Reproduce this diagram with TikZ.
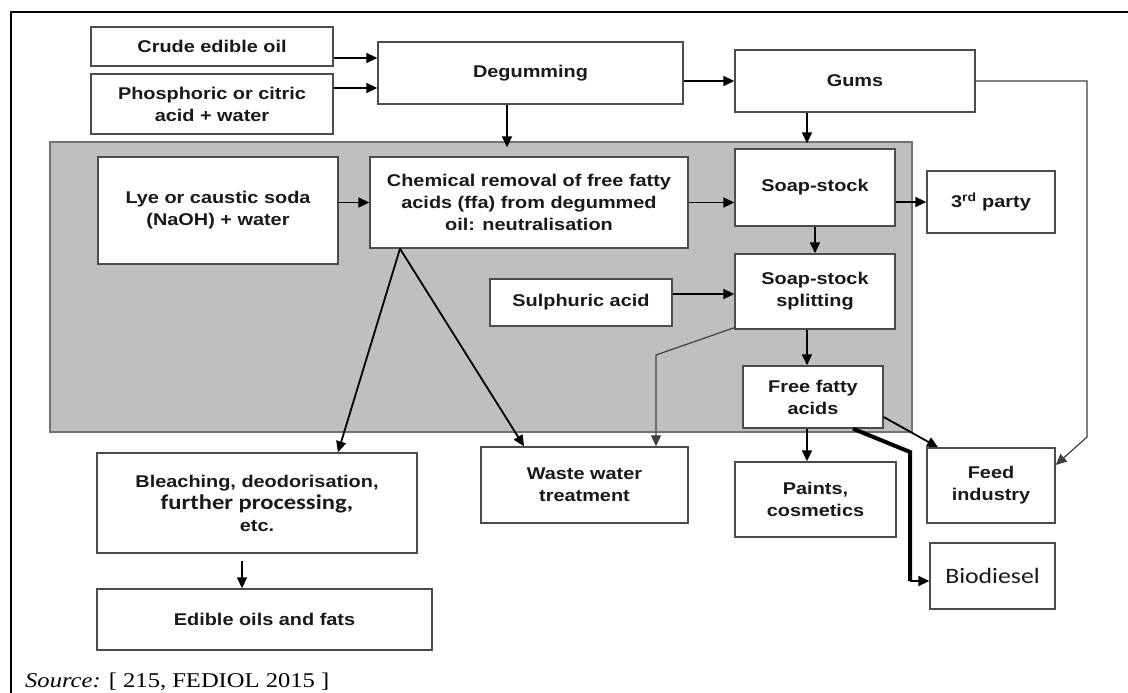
\documentclass[tikz,border=0pt]{standalone}
\usepackage{fontspec}
\setmainfont{Liberation Sans}
\newfontfamily\boxfont[FakeStretch=1.17]{Liberation Sans}
\newfontfamily\calfont[FakeStretch=1.17]{Carlito}
\newfontfamily\srcfont[FakeStretch=1.17]{Liberation Serif}
\usetikzlibrary{arrows.meta}

\begin{document}
\begin{tikzpicture}[x=1pt,y=-1pt,
  box/.style={draw=black!70,line width=1.4pt,fill=white,inner sep=0pt,align=center,
    text=black!90,font=\boxfont\bfseries\fontsize{17}{22}\selectfont},
  arr/.style={line width=1.8pt,-{Triangle[length=11pt,width=10pt]}},
  thinarr/.style={arr,line width=1.2pt,draw=black!75}]
  \fill[white] (0,0) rectangle (1128,693);
  \useasboundingbox (0,0) rectangle (1128,693);
  \draw[line width=2pt] (11,693) -- (11,12) -- (1128,12);
  \draw[draw=black!55,line width=1.4pt,fill=black!25] (50,142) rectangle (912,432);

  \node[box,minimum width=242pt,minimum height=39pt] (crude) at (212,46.5) {Crude edible oil};
  \node[box,minimum width=242pt,minimum height=60pt] (acid) at (212,104) {Phosphoric or citric\\acid + water};
  \node[box,minimum width=305pt,minimum height=62pt] (degum) at (530.5,73) {Degumming};
  \node[box,minimum width=240pt,minimum height=62pt] (gums) at (855,81) {Gums};
  \node[box,minimum width=240pt,minimum height=107pt] (lye) at (218,210.5) {Lye or caustic soda\\(NaOH) + water};
  \node[box,minimum width=318pt,minimum height=91pt] (neutral) at (529,202.5) {Chemical removal of free fatty\\acids (ffa) from degummed\\oil: neutralisation};
  \node[box,minimum width=160pt,minimum height=77pt] (soap) at (815,187.5) {Soap-stock};
  \node[box,minimum width=128pt,minimum height=62pt] (party) at (991,202) {3\textsuperscript{rd} party};
  \node[box,minimum width=160pt,minimum height=75pt] (split) at (815,291.5) {Soap-stock\\splitting};
  \node[box,minimum width=182pt,minimum height=47pt] (sulph) at (581,302.5) {Sulphuric acid};
  \node[box,minimum width=140pt,minimum height=62pt] (ffa) at (813,397) {Free fatty\\acids};
  \node[box,minimum width=207pt,minimum height=76pt] (waste) at (584.5,485) {Waste water\\treatment};
  \node[box,minimum width=161pt,minimum height=75pt] (paints) at (815.5,499.5) {Paints,\\cosmetics};
  \node[box,minimum width=128pt,minimum height=75pt] (feed) at (991,485.5) {Feed\\industry};
  \node[box,minimum width=125pt,minimum height=66pt,font=\calfont\fontsize{22}{26}\selectfont] (biodiesel) at (992.5,576) {Biodiesel};
  \node[box,minimum width=320pt,minimum height=100pt] (bleach) at (257,503) {Bleaching, deodorisation,\\{\calfont\fontsize{21}{23}\selectfont further processing,}\\etc.};
  \node[box,minimum width=335pt,minimum height=61pt] (edible) at (264.5,619.5) {Edible oils and fats};
  \node[anchor=base west,inner sep=0pt,font=\srcfont\fontsize{21}{24}\selectfont] (src) at (25,687) {\textit{Source:} [ 215, FEDIOL 2015 ]};

  \coordinate (in1) at ([yshift=-11.5pt]crude.east);
  \draw[arr] (in1) -- (in1 -| degum.west);
  \coordinate (in2) at ([yshift=16pt]acid.east);
  \draw[arr] (in2) -- (in2 -| degum.west);
  \draw[arr] (degum.east |- gums.west) -- (gums.west);
  \draw[arr,shorten >=9pt] ([xshift=-23.5pt]degum.south) -- ([xshift=-22pt]neutral.north);
  \draw[arr,shorten >=5pt] ([xshift=-48pt]gums.south) -- ([xshift=-8pt]soap.north);
  \draw[arr] (lye.east |- neutral.west) -- (neutral.west);
  \draw[arr] (neutral.east) -- (neutral.east -| soap.west);
  \draw[arr] (soap.east |- party.west) -- (party.west);
  \draw[arr] (soap.south) -- (split.north);
  \coordinate (in3) at ([yshift=8.5pt]sulph.east);
  \draw[arr] (in3) -- (in3 -| split.west);
  \draw[arr] ([xshift=-8pt]split.south) -- ([xshift=-6pt]ffa.north);
  \coordinate (wbend) at (656,355);
  \draw[thinarr] ([yshift=2pt]split.south west) -- (wbend) -- (wbend |- waste.north);
  \coordinate (fork) at ([xshift=-129pt]neutral.south);
  \draw[arr] (fork) -- ([xshift=81pt]bleach.north);
  \draw[arr] (fork) -- ([xshift=-60.5pt]waste.north);
  \draw[arr,shorten <=7pt] ([xshift=-15pt]bleach.south) -- ([xshift=-22.5pt]edible.north);
  \draw[arr] ([xshift=-6pt]ffa.south) -- ([xshift=-8.5pt]paints.north);
  \draw[arr] ([yshift=-20pt]ffa.east) -- ([xshift=-53pt]feed.north);
  \coordinate (gbend) at (1087,437);
  \draw[thinarr] (gums.east) -| (gbend) -- ([yshift=20.5pt]feed.east);
  \coordinate (bbend) at (910,452);
  \coordinate (bin) at ([yshift=-5pt]biodiesel.west);
  \draw[line width=4pt] ([xshift=40pt]ffa.south) -- (bbend) -- (bbend |- bin);
  \draw[arr] (bbend |- bin) -- (bin);
\end{tikzpicture}
\end{document}
